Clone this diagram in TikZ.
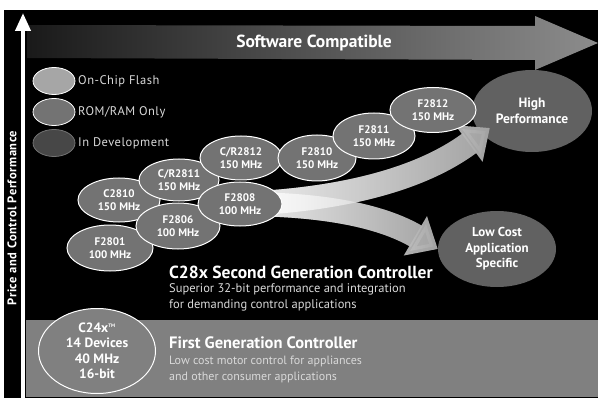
\documentclass[tikz,border=0pt]{standalone}
\usepackage{fontspec}
\setmainfont{PT Sans}
\newfontfamily\spacedfont[LetterSpace=4]{PT Sans}
\usetikzlibrary{positioning,calc,arrows.meta,shapes.geometric,fadings}
\pgfdeclarelayer{back}
\pgfdeclarelayer{mid}
\pgfsetlayers{back,mid,main}
\tikzfading[name=glow, left color=transparent!10, right color=transparent!100]
\tikzset{
	chip/.style={ellipse, draw=white, line width=1pt, fill=black!55, text=white, align=center, inner sep=0pt,
		font=\fontsize{11}{13}\selectfont\bfseries, minimum width=82pt, minimum height=44pt},
	goal/.style={ellipse, fill=black!62, text=white, align=center, inner sep=0pt,
		font=\fontsize{13.5}{16}\selectfont\bfseries},
	keybox/.style={ellipse, line width=0.8pt, minimum width=42pt, minimum height=27pt, inner sep=0pt},
	keytxt/.style={anchor=west, text=white!85!black, font=\spacedfont\fontsize{12.5}{14}\selectfont},
	bigarrow/.style={line width=24pt, black!38, -{Triangle[length=26pt, width=44pt]}},
}

\begin{document}
\begin{tikzpicture}[x=1pt, y=-1pt]
	\useasboundingbox (0,0) rectangle (601,403);
	\begin{pgfonlayer}{back}
		\fill[white] (0,0) rectangle (601,403);
		\fill[black] (4,10) rectangle (598,398);
		\shade[left color=black!90, right color=black!45] (27,25) -- (535,26) -- (535,16) -- (598,43)
			-- (535,70) -- (535,60) -- (27,58) -- cycle;
		\fill[black!50] (26,320) rectangle (598,397);

		\node[goal, minimum width=120pt, minimum height=82pt] (high) at (532,111) {High\\Performance};
		\node[goal, minimum width=118pt, minimum height=76pt, font=\fontsize{13}{15.5}\selectfont\bfseries] (lowcost) at (497,249)
			{Low Cost\\Application\\Specific};
	\end{pgfonlayer}

	\tikzstyle{every node}=[inner sep=1pt]
	\node[text=white, font=\fontsize{17.5}{20}\selectfont\bfseries] (swc) at (314,43) {Software Compatible};

	% axis
	\coordinate (ybot) at (23,399);
	\coordinate (ytop) at (23,13);
	\draw[white, line width=4pt, -{Triangle[length=18pt, width=15pt]}] (ybot) to (ytop);
	\node[rotate=90, text=white, font=\spacedfont\fontsize{12.5}{14}\selectfont\bfseries] (yaxis) at (12,218) {Price and Control Performance};

	% legend
	\node[keybox, draw=white, fill=black!35] (keyflash) at (54,81) {};
	\node[keybox, draw=white, fill=black!55] (keyrom) at (54,112) {};
	\node[keybox, draw=black!55, fill=black!72] (keydev) at (54,143) {};
	\node[keytxt] (flashtxt) at (77,81) {On-Chip Flash};
	\node[keytxt] (romtxt) at (77,112) {ROM/RAM Only};
	\node[keytxt] (devtxt) at (77,143) {In Development};

	% devices
	\node[chip, minimum width=86pt, minimum height=46pt] (f2801) at (110,248) {F2801\\100 MHz};
	\node[chip] (c2810) at (119,200) {C2810\\150 MHz};
	\node[chip, minimum width=84pt, minimum height=46pt] (f2806) at (178,226) {F2806\\100 MHz};
	\node[chip, minimum width=80pt, minimum height=42pt] (cr2811) at (179,180) {C/R2811\\150 MHz};
	\node[chip, minimum width=84pt] (f2808) at (240,204) {F2808\\100 MHz};
	\node[chip] (cr2812) at (241,158) {C/R2812\\150 MHz};
	\node[chip, minimum width=78pt, minimum height=46pt] (f2810) at (317,158) {F2810\\150 MHz};
	\node[chip, minimum height=46pt] (f2811) at (374,136) {F2811\\150 MHz};
	\node[chip, minimum width=86pt, minimum height=45pt] (f2812) at (433,110) {F2812\\150 MHz};

	\begin{pgfonlayer}{mid}
		\coordinate (hightip) at ($(high.west)+(18,17)$);
		\draw[bigarrow] (f2808.center) .. controls (340,200) and (420,180) .. (hightip);
		\draw[bigarrow] (f2808.center) .. controls (320,204) and (380,215) .. (lowcost.west);
		\draw[bigarrow, white, path fading=glow] (f2808.center) .. controls (340,200) and (420,180) .. (hightip);
		\draw[bigarrow, white, path fading=glow] (f2808.center) .. controls (320,204) and (380,215) .. (lowcost.west);
	\end{pgfonlayer}

	% second generation
	\node[anchor=west, text=white, font=\fontsize{17.5}{20}\selectfont\bfseries] (c28x) at (168,272) {C28x Second Generation Controller};
	\node[anchor=north west, align=left, text=white!85!black, font=\fontsize{12.5}{16}\selectfont] (c28xtxt) at (168,282)
		{Superior 32-bit performance and integration\\for demanding control applications};

	% first generation
	\node[ellipse, draw=white, line width=1pt, fill=black!50, text=white, align=center, inner sep=0pt,
		minimum width=117pt, minimum height=85pt, font=\fontsize{13.5}{15.5}\selectfont\bfseries] (c24x) at (97,351)
		{C24x\textsuperscript{\tiny TM}\\14 Devices\\40 MHz\\16-bit};
	\node[anchor=west, text=white, font=\fontsize{16.5}{18}\selectfont\bfseries] (c24xhead) at (168,343) {First Generation Controller};
	\node[anchor=north west, align=left, text=white!85!black, font=\fontsize{12}{16}\selectfont] (c24xtxt) at (168,355)
		{Low cost motor control for appliances\\and other consumer applications};
\end{tikzpicture}
\end{document}
